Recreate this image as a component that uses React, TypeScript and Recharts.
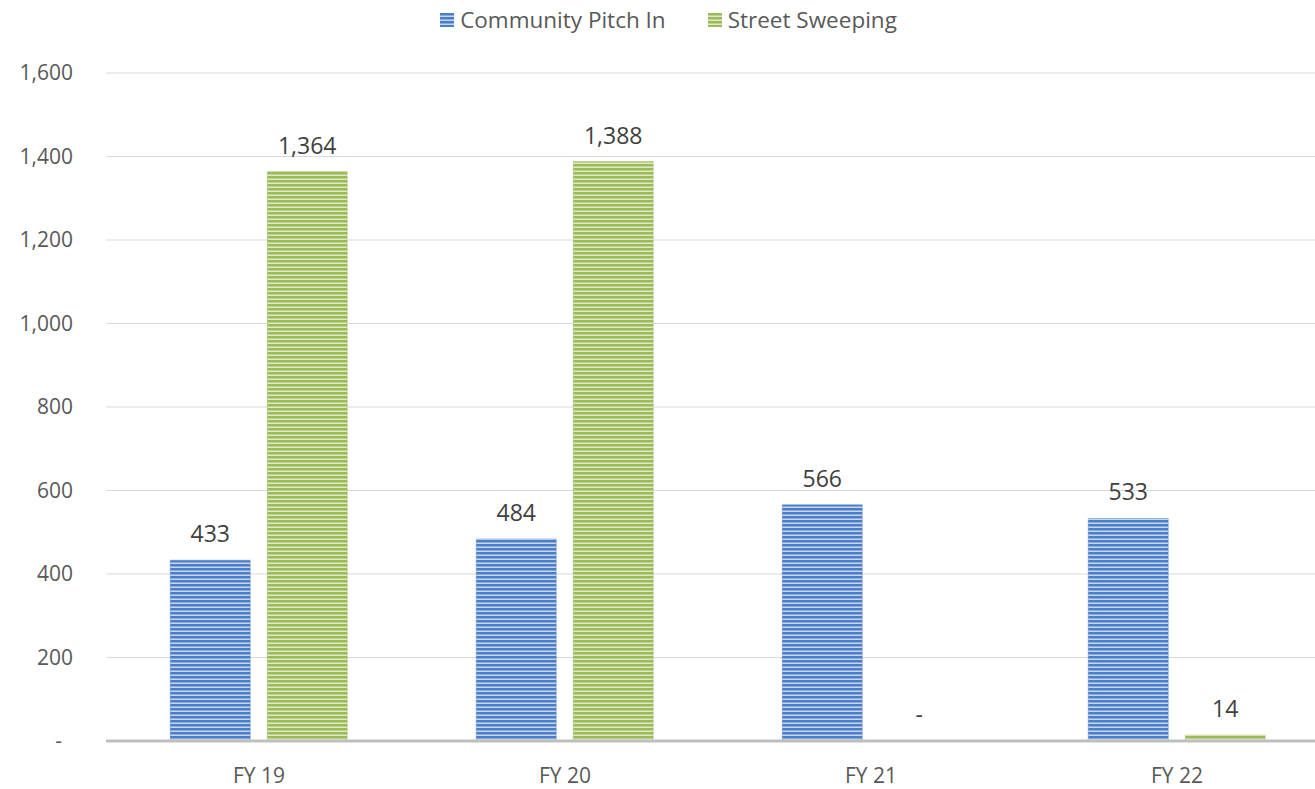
import React from "react";
import { BarChart, Bar, XAxis, YAxis, CartesianGrid, Legend, LabelList } from "recharts";

const categories = ["FY 19", "FY 20", "FY 21", "FY 22"];
const communityPitchIn = [433, 484, 566, 533];
const streetSweeping = [1364, 1388, 0, 14];
const yTicks = [0, 200, 400, 600, 800, 1000, 1200, 1400, 1600];

const data = categories.map((c, i) => ({
  name: c,
  community: communityPitchIn[i],
  street: streetSweeping[i],
}));

const FONT = "'Open Sans', 'Noto Sans', sans-serif";
const fmt = (v: any) => (Number(v) === 0 ? "-" : Number(v).toLocaleString("en-US"));

const series = [
  { key: "community", name: "Community Pitch In", pat: "url(#blueStripe)", color: "#4a7ec8" },
  { key: "street", name: "Street Sweeping", pat: "url(#greenStripe)", color: "#9bbb59" },
];

const LegendContent = () => (
  <div style={{ display: "flex", justifyContent: "center", gap: 42, paddingLeft: 22, fontFamily: FONT, fontSize: 22.5, color: "#595959", lineHeight: "30px" }}>
    {series.map((s) => (
      <div key={s.key} style={{ display: "flex", alignItems: "center" }}>
        <svg width={14} height={14} style={{ marginRight: 6 }}>
          <rect x={0} y={0} width={14} height={14} fill={s.pat} />
        </svg>
        <span>{s.name}</span>
      </div>
    ))}
  </div>
);

const YTick = (props: any) => {
  const { x, y, payload } = props;
  const v = payload.value;
  const isZero = Number(v) === 0;
  return (
    <text x={isZero ? x - 11 : x} y={y} dy="0.35em" textAnchor="end" fill="#595959" fontSize={21} fontFamily={FONT}>
      {fmt(v)}
    </text>
  );
};

const makeLabel = (props: any) => {
  const { x, y, width, height, value } = props;
  const top = Math.min(Number(y), Number(y) + Number(height || 0));
  return (
    <text x={Number(x) + Number(width) / 2} y={top - 18} textAnchor="middle" fill="#404040" fontSize={23} fontFamily={FONT}>
      {fmt(value)}
    </text>
  );
};

export default function App() {
  return (
    <div style={{ position: "absolute", left: 0, top: 0, width: 1315, height: 789, overflow: "hidden", background: "#fff" }}>
      <BarChart
        width={1330}
        height={789}
        data={data}
        margin={{ top: 43, right: 0, bottom: 8, left: 0 }}
        barGap={17}
        barCategoryGap="21%"
      >
        <defs>
          <pattern id="blueStripe" patternUnits="userSpaceOnUse" width={4} height={4}>
            <rect x={0} y={0} width={4} height={4} fill="#4a7ec8" />
            <rect x={0} y={2.5} width={4} height={1.5} fill="#c8d6ee" />
          </pattern>
          <pattern id="greenStripe" patternUnits="userSpaceOnUse" width={4} height={4}>
            <rect x={0} y={0} width={4} height={4} fill="#9bbb59" />
            <rect x={0} y={2.5} width={4} height={1.5} fill="#dfe9c9" />
          </pattern>
        </defs>
        <CartesianGrid vertical={false} stroke="#d9d9d9" strokeWidth={1} />
        <XAxis
          dataKey="name"
          height={40}
          axisLine={{ stroke: "#bfbfbf", strokeWidth: 3 }}
          tickLine={false}
          tick={{ fill: "#595959", fontSize: 21, fontFamily: FONT }}
          tickMargin={21}
        />
        <YAxis
          width={106}
          domain={[0, 1600]}
          ticks={yTicks}
          axisLine={false}
          tickLine={false}
          tick={<YTick />}
          tickMargin={27}
          interval={0}
        />
        <Legend verticalAlign="top" content={<LegendContent />} wrapperStyle={{ top: 5, left: 0, width: 1315 }} />
        {series.map((s) => (
          <Bar key={s.key} dataKey={s.key} name={s.name} fill={s.pat} stroke={s.color} strokeOpacity={0.4} minPointSize={0.01} isAnimationActive={false}>
            <LabelList dataKey={s.key} content={makeLabel} />
          </Bar>
        ))}
      </BarChart>
    </div>
  );
}
